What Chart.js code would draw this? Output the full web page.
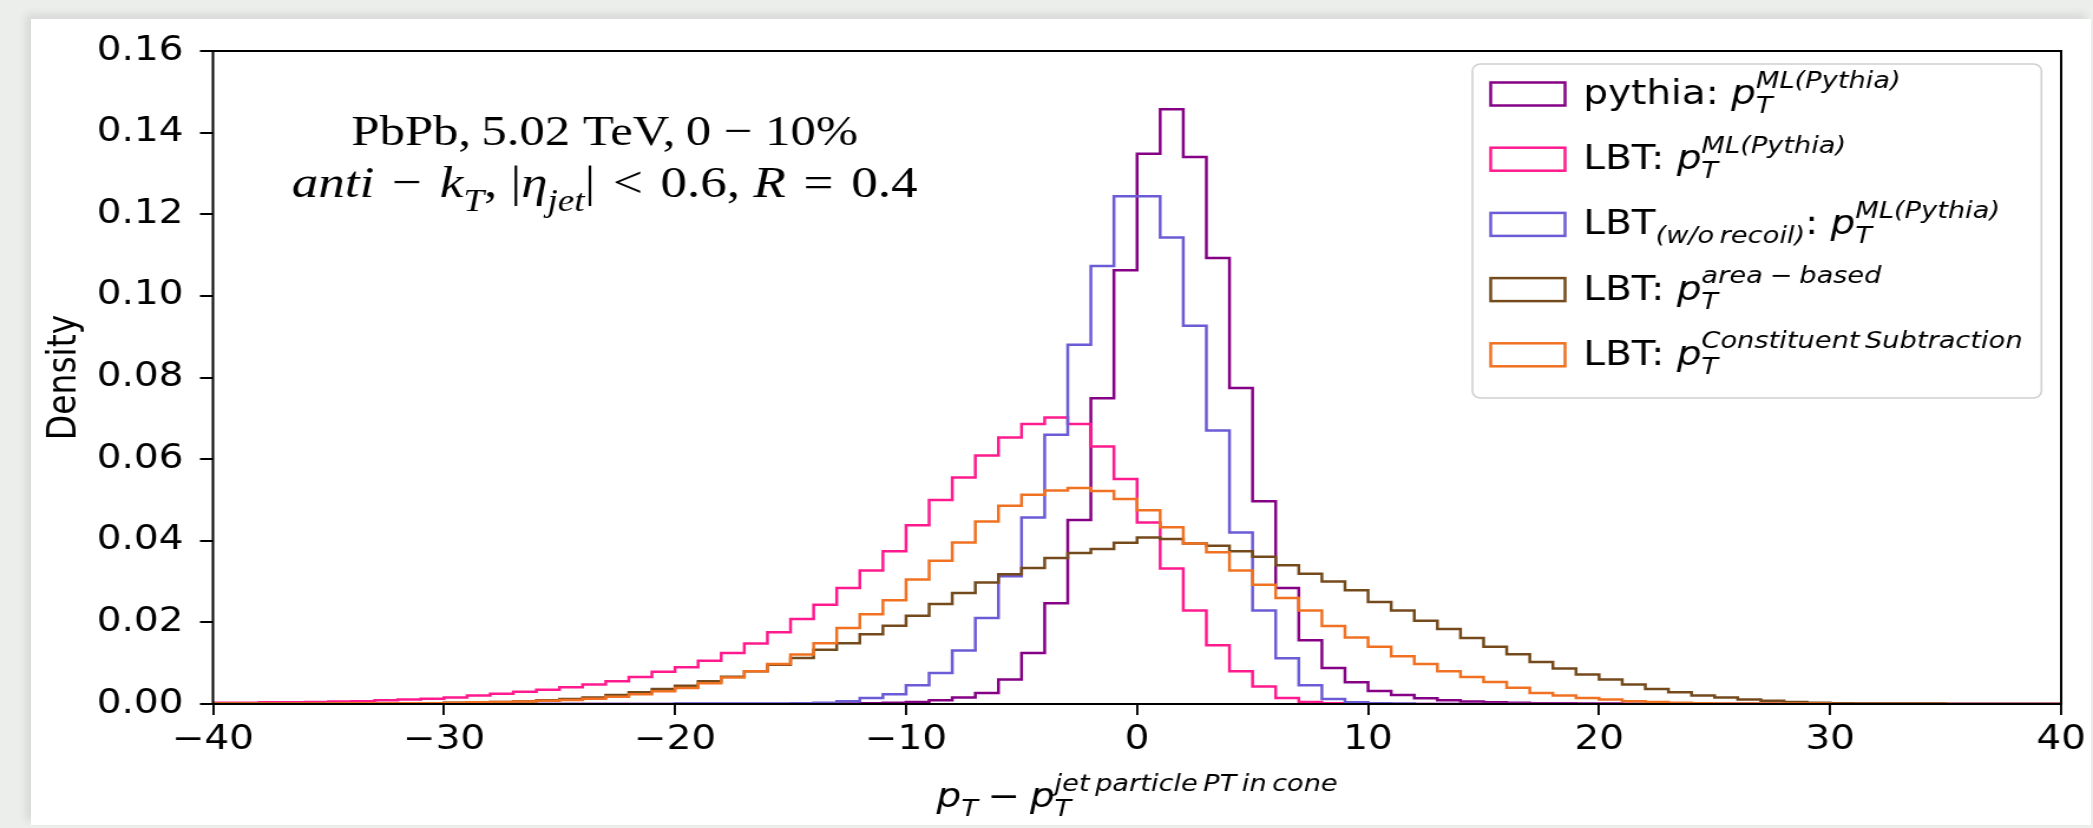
<!DOCTYPE html>
<html>
<head>
<meta charset="utf-8">
<script src="https://cdn.jsdelivr.net/npm/chart.js@4.4.1/dist/chart.umd.min.js"></script>
<style>
  html, body { margin: 0; width: 2093px; height: 828px; overflow: hidden; background: #eceeeb; }
  #panel { position: absolute; left: 31px; top: 19px; width: 2060px; height: 806px; background: #fff;
           box-shadow: -5px -5px 8px rgba(0, 0, 0, 0.09); }
  #wrap { position: absolute; left: 0; top: 0; width: 1774px; height: 828px;
          transform: scaleX(1.17982); transform-origin: 0 0; }
</style>
</head>
<body>
<div id="panel"></div>
<div id="wrap"><canvas id="chart"></canvas></div>
<script>
// histogram binning: 80 bins of width 1 from -40 to 40
const xMin = -40;
const binWidth = 1;
const binEdges = [];
for (let e = xMin; e < 40; e += binWidth) binEdges.push(e);

const xTicks = [-40, -30, -20, -10, 0, 10, 20, 30, 40];
const yTicks = [0, 0.02, 0.04, 0.06, 0.08, 0.10, 0.12, 0.14, 0.16];

const seriesNames = [
  'pythia: p_T^ML(Pythia)',
  'LBT: p_T^ML(Pythia)',
  'LBT(w/o recoil): p_T^ML(Pythia)',
  'LBT: p_T^area-based',
  'LBT: p_T^Constituent Subtraction'
];
const seriesColors = ['#850085', '#ff1a8e', '#6b5bd6', '#744a1c', '#f07122'];

// density per bin, left edge -40 ... 39
const pythiaML = [
  0, 0, 0, 0, 0, 0, 0, 0, 0, 0,
  0, 0, 0, 0, 0, 0, 0, 0, 0, 0,
  0, 0, 0, 0, 0, 0.0001, 0.0001, 0.0001, 0.0002, 0.0003,
  0.0005, 0.0009, 0.0016, 0.0027, 0.006, 0.0125, 0.0247, 0.0451, 0.0749, 0.1063,
  0.1348, 0.1457, 0.134, 0.1093, 0.0774, 0.0497, 0.0284, 0.0156, 0.0088, 0.0053,
  0.0032, 0.0022, 0.0014, 0.0009, 0.0006, 0.0004, 0.0003, 0.0002, 0.0002, 0.0001,
  0.0001, 0, 0, 0, 0, 0, 0, 0, 0, 0,
  0, 0, 0, 0, 0, 0, 0, 0, 0, 0
];
const lbtML = [
  0.0003, 0.0003, 0.0004, 0.0004, 0.0005, 0.0006, 0.0007, 0.0009, 0.0011, 0.0013,
  0.0016, 0.0021, 0.0025, 0.003, 0.0035, 0.0041, 0.0048, 0.0056, 0.0066, 0.0079,
  0.009, 0.0106, 0.0125, 0.0148, 0.0176, 0.0208, 0.0243, 0.0284, 0.0327, 0.0374,
  0.0438, 0.05, 0.0555, 0.0609, 0.0653, 0.0686, 0.0702, 0.0686, 0.0631, 0.0551,
  0.0445, 0.0332, 0.0229, 0.0144, 0.008, 0.0043, 0.0015, 0.0005, 0.0002, 0.0001,
  0, 0, 0, 0, 0, 0, 0, 0, 0, 0,
  0, 0, 0, 0, 0, 0, 0, 0, 0, 0,
  0, 0, 0, 0, 0, 0, 0, 0, 0, 0
];
const lbtNoRecoilML = [
  0, 0, 0, 0, 0, 0, 0, 0, 0, 0,
  0, 0, 0, 0, 0, 0, 0, 0, 0, 0,
  0.0001, 0.0001, 0.0001, 0.0001, 0.0001, 0.0002, 0.0003, 0.0007, 0.0015, 0.0024,
  0.0046, 0.0076, 0.0131, 0.0211, 0.0313, 0.0457, 0.066, 0.088, 0.1073, 0.1244,
  0.1244, 0.1143, 0.0927, 0.067, 0.042, 0.0229, 0.0112, 0.0046, 0.0012, 0.0004,
  0.0002, 0.0001, 0, 0, 0, 0, 0, 0, 0, 0,
  0, 0, 0, 0, 0, 0, 0, 0, 0, 0,
  0, 0, 0, 0, 0, 0, 0, 0, 0, 0
];
const lbtAreaBased = [
  0.0001, 0.0001, 0.0001, 0.0001, 0.0001, 0.0001, 0.0002, 0.0002, 0.0002, 0.0002,
  0.0003, 0.0004, 0.0005, 0.0007, 0.0009, 0.0012, 0.0016, 0.0022, 0.0029, 0.0037,
  0.0045, 0.0056, 0.0067, 0.008, 0.0096, 0.0113, 0.0133, 0.0149, 0.0171, 0.0192,
  0.0216, 0.0245, 0.0272, 0.0298, 0.0318, 0.0333, 0.0358, 0.037, 0.038, 0.0395,
  0.0408, 0.0404, 0.0393, 0.0388, 0.0374, 0.0361, 0.034, 0.0319, 0.03, 0.0279,
  0.025, 0.0229, 0.0204, 0.0184, 0.0162, 0.014, 0.0122, 0.0103, 0.0087, 0.0072,
  0.006, 0.0048, 0.0037, 0.0029, 0.0021, 0.0016, 0.0011, 0.0008, 0.0005, 0.0003,
  0.0002, 0.0001, 0.0001, 0.0001, 0.0001, 0, 0, 0, 0, 0
];
const lbtConstSub = [
  0.0001, 0.0001, 0.0001, 0.0001, 0.0001, 0.0002, 0.0002, 0.0002, 0.0002, 0.0002,
  0.0003, 0.0004, 0.0005, 0.0006, 0.0008, 0.001, 0.0013, 0.0018, 0.0024, 0.0031,
  0.0039, 0.0051, 0.0065, 0.008, 0.0098, 0.0121, 0.0149, 0.0186, 0.022, 0.0254,
  0.0305, 0.0351, 0.0396, 0.0447, 0.0486, 0.0513, 0.0523, 0.0529, 0.0522, 0.0502,
  0.0475, 0.0433, 0.0393, 0.0372, 0.0327, 0.0292, 0.026, 0.0229, 0.0191, 0.0163,
  0.014, 0.0117, 0.0098, 0.008, 0.0066, 0.0054, 0.004, 0.0027, 0.0021, 0.0015,
  0.0011, 0.0007, 0.0005, 0.0003, 0.0002, 0.0001, 0.0001, 0.0001, 0.0001, 0.0001,
  0, 0, 0, 0, 0, 0, 0, 0, 0, 0
];
const seriesValues = [pythiaML, lbtML, lbtNoRecoilML, lbtAreaBased, lbtConstSub];

// rich-text runs (sub/superscripts) for legend, x label and annotation
const P_T = [{ t: 'p', i: 1 }, { t: 'T', i: 1, s: 'sub' }];
const legendRuns = [
  [{ t: 'pythia: ' }, ...P_T, { t: 'ML(Pythia)', i: 1, s: 'sup', stack: 1 }],
  [{ t: 'LBT: ' }, ...P_T, { t: 'ML(Pythia)', i: 1, s: 'sup', stack: 1 }],
  [{ t: 'LBT' }, { t: '(w/o\u2009recoil)', i: 1, s: 'sub' }, { t: ': ' }, ...P_T, { t: 'ML(Pythia)', i: 1, s: 'sup', stack: 1 }],
  [{ t: 'LBT: ' }, ...P_T, { t: 'area\u2005\u2212\u2005based', i: 1, s: 'sup', stack: 1 }],
  [{ t: 'LBT: ' }, ...P_T, { t: 'Constituent\u2009Subtraction', i: 1, s: 'sup', stack: 1 }]
];
const xLabelRuns = [...P_T, { t: '\u2005\u2212\u2005' }, ...P_T,
  { t: 'jet\u2009particle\u2009PT\u2009in\u2009cone', i: 1, s: 'sup', stack: 1 }];
const noteLine1 = [{ t: 'PbPb,\u20095.02 TeV,\u20090 \u2212 10%' }];
const noteLine2 = [{ t: 'anti', i: 1 }, { t: '\u2004\u2212\u2004' }, { t: 'k', i: 1 }, { t: 'T', i: 1, s: 'sub' },
  { t: ', |' }, { t: '\u03b7', i: 1 }, { t: 'jet', i: 1, s: 'sub' }, { t: '|\u2004<\u20040.6, ' },
  { t: 'R', i: 1 }, { t: '\u2004=\u20040.4' }];

const SANS = "'DejaVu Sans'";
const SERIF = "'Liberation Serif'";

function drawRuns(ctx, runs, x, y, o) {
  const items = [];
  let cursor = 0, lastStart = 0;
  for (const r of runs) {
    const fs = r.s ? o.size * 0.7 : o.size;
    const font = (r.i ? 'italic ' : '') + fs + 'px ' + o.family;
    ctx.font = font;
    const w = ctx.measureText(r.t).width;
    const x0 = r.stack ? lastStart : cursor;
    const dy = r.s === 'sup' ? -o.supUp * o.size : r.s === 'sub' ? o.subDown * o.size : 0;
    items.push({ t: r.t, font, x0, dy });
    cursor = r.stack ? Math.max(cursor, x0 + w) : x0 + w;
    lastStart = x0;
  }
  const start = o.align === 'center' ? x - cursor / 2 : x;
  if (!o.measureOnly) {
    ctx.textAlign = 'left';
    ctx.textBaseline = 'alphabetic';
    ctx.fillStyle = '#000';
    for (const it of items) {
      ctx.font = it.font;
      ctx.fillText(it.t, start + it.x0, y + it.dy);
    }
  }
  return cursor;
}

const mathSans = { size: 33, family: SANS, supUp: 0.5, subDown: 0.27 };

const decorations = {
  id: 'decorations',
  afterDatasetsDraw(chart) {
    const { ctx, chartArea: a } = chart;
    ctx.save();
    ctx.strokeStyle = '#000';
    ctx.lineWidth = 2;
    ctx.strokeRect(a.left, a.top, a.right - a.left, a.bottom - a.top);
    ctx.restore();
  },
  afterDraw(chart) {
    const { ctx, chartArea: a } = chart;
    ctx.save();

    // legend
    let textW = 0;
    legendRuns.forEach(r => { textW = Math.max(textW, drawRuns(ctx, r, 0, 0, { ...mathSans, measureOnly: true })); });
    const boxW = 94 + textW + 16;
    const boxR = a.right - 16.7, boxL = boxR - boxW, boxT = a.top + 13, boxB = a.top + 347;
    ctx.beginPath();
    ctx.roundRect(boxL, boxT, boxW, boxB - boxT, 7);
    ctx.fillStyle = 'rgba(255,255,255,0.8)';
    ctx.fill();
    ctx.strokeStyle = '#d0d0d0';
    ctx.lineWidth = 1.6;
    ctx.stroke();
    legendRuns.forEach((runs, k) => {
      const cy = a.top + 43 + k * 65.2;
      ctx.strokeStyle = seriesColors[k];
      ctx.lineWidth = 2.5;
      ctx.strokeRect(boxL + 15.5, cy - 11.5, 63, 23);
      drawRuns(ctx, runs, boxL + 94, cy + 10, mathSans);
    });

    // x axis label
    drawRuns(ctx, xLabelRuns, (a.left + a.right) / 2, 807, { ...mathSans, align: 'center' });

    // annotation
    const cx = a.left + 332;
    drawRuns(ctx, noteLine1, cx, 145, { size: 43, family: SERIF, supUp: 0.45, subDown: 0.3, align: 'center' });
    drawRuns(ctx, noteLine2, cx, 197, { size: 45, family: SERIF, supUp: 0.45, subDown: 0.3, align: 'center' });
    ctx.restore();
  }
};

// step outline: each bin value holds from its left edge to the next edge
function stepPoints(vals) {
  const pts = [{ x: xMin, y: 0 }];
  binEdges.forEach((e, i) => pts.push({ x: e, y: vals[i] }));
  pts.push({ x: binEdges[binEdges.length - 1] + binWidth, y: vals[vals.length - 1] });
  pts.push({ x: binEdges[binEdges.length - 1] + binWidth, y: 0 });
  return pts;
}

const datasets = seriesValues.map((vals, k) => ({
  label: seriesNames[k],
  data: stepPoints(vals),
  borderColor: seriesColors[k],
  backgroundColor: seriesColors[k],
  borderWidth: 2.5,
  stepped: 'before',
  pointRadius: 0,
  fill: false,
  order: seriesValues.length - k
}));

const tickFont = { family: SANS, size: 33 };

new Chart(document.getElementById('chart'), {
  type: 'line',
  data: { datasets },
  options: {
    responsive: true,
    maintainAspectRatio: false,
    animation: false,
    layout: { padding: { left: 0, right: 25.7, top: 51, bottom: 0 } },
    plugins: { legend: { display: false }, tooltip: { enabled: false } },
    scales: {
      x: {
        type: 'linear',
        min: xTicks[0],
        max: xTicks[xTicks.length - 1],
        afterBuildTicks: s => { s.ticks = xTicks.map(v => ({ value: v })); },
        afterFit: s => { s.height = 124; },
        border: { display: false },
        grid: { drawOnChartArea: false, drawTicks: true, tickLength: 11, color: '#000', lineWidth: 1.9 },
        ticks: {
          color: '#000', font: tickFont, padding: 6, maxRotation: 0,
          callback: v => (v < 0 ? '\u2212' + Math.abs(v) : String(v))
        }
      },
      y: {
        min: yTicks[0],
        max: yTicks[yTicks.length - 1],
        afterBuildTicks: s => { s.ticks = yTicks.map(v => ({ value: v })); },
        afterFit: s => { s.width = 180.5; },
        border: { display: false },
        grid: { drawOnChartArea: false, drawTicks: true, tickLength: 11, color: '#000', lineWidth: 2 },
        ticks: { color: '#000', font: tickFont, padding: 14, callback: v => v.toFixed(2) },
        title: { display: true, text: 'Density', color: '#000', font: tickFont, padding: { top: 36, bottom: 0 } }
      }
    }
  },
  plugins: [decorations]
});
</script>
</body>
</html>
